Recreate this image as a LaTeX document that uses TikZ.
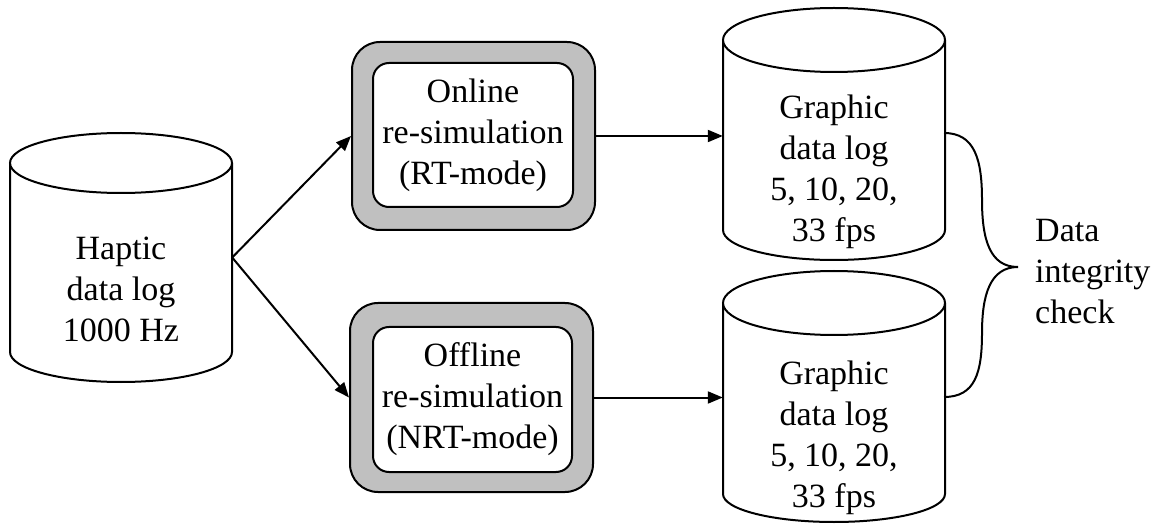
\documentclass[tikz,border=0pt]{standalone}
\usepackage{fontspec}
\setmainfont{LiberationSerif}[Extension=.ttf, UprightFont=*-Regular, BoldFont=*-Bold, ItalicFont=*-Italic, BoldItalicFont=*-BoldItalic]
\usetikzlibrary{arrows.meta}
\definecolor{boxgray}{RGB}{192,192,192}
\begin{document}
\begin{tikzpicture}[x=1pt,y=1pt,
  outline/.style={draw=black,line width=2pt},
  txt/.style={font=\rmfamily\fontsize{34}{41}\selectfont, align=center, inner sep=0pt},
  outerbox/.style={outline, fill=boxgray, rounded corners=28pt, minimum width=243pt, minimum height=188pt, inner sep=0pt},
  innerbox/.style={outline, fill=white, rounded corners=16pt, minimum width=200pt, minimum height=144pt, inner sep=0pt, font=\rmfamily\fontsize{34}{41}\selectfont, align=center},
  flow/.style={line width=2pt, -{Triangle[length=15pt,width=12pt]}},
  cylbody/.style={inner sep=0pt, minimum width=222pt},
  bracestyle/.style={line width=2pt}
]
\useasboundingbox (0,0) rectangle (1161,525);

% ---- cylinders (drawn shapes) ----
% Haptic data log
\draw[outline,fill=white] (10,362) -- (10,173) arc[start angle=180,end angle=360,x radius=111,y radius=30] -- (232,362);
\draw[outline,fill=white] (121,362) ellipse[x radius=111,y radius=30];
% Graphic data log (top)
\draw[outline,fill=white] (723,485) -- (723,295) arc[start angle=180,end angle=360,x radius=111,y radius=30] -- (945,485);
\draw[outline,fill=white] (834,485) ellipse[x radius=111,y radius=32];
% Graphic data log (bottom)
\draw[outline,fill=white] (723,222) -- (723,31) arc[start angle=180,end angle=360,x radius=111,y radius=28] -- (945,222);
\draw[outline,fill=white] (834,222) ellipse[x radius=111,y radius=32];

% invisible nodes marking the cylinder bodies
\node[cylbody, minimum height=189pt] (haptic) at (121,267.5) {};
\node[cylbody, minimum height=190pt] (gtop) at (834,390) {};
\node[cylbody, minimum height=191pt] (gbot) at (834,126.5) {};

% cylinder labels
\node[txt] (hapticlabel) at (121,236) {Haptic\\data log\\1000 Hz};
\node[txt] (gtoplabel) at (834,353) {Graphic\\data log\\5, 10, 20,\\33 fps};
\node[txt] (gbotlabel) at (834,87) {Graphic\\data log\\5, 10, 20,\\33 fps};

% ---- process boxes ----
\node[outerbox] (online) at (473.5,389) {};
\node[innerbox] (onlinein) at (473,390) {Online\\re-simulation\\(RT-mode)};
\node[outerbox, minimum height=189pt] (offline) at (471.5,127.5) {};
\node[innerbox, minimum width=199pt, minimum height=145pt] (offlinein) at (472.5,125.5) {Offline\\re-simulation\\(NRT-mode)};

% ---- connectors ----
\draw[flow] (haptic.east) -- (online.west);
\draw[flow] (haptic.east) -- (offline.west);
\draw[flow] (online.east) -- (online.east -| gtop.west);
\draw[flow] (offline.east) -- (offline.east -| gbot.west);

% ---- brace ----
\coordinate (bt) at (944,392);
\coordinate (btip) at (1018,258);
\coordinate (bb) at (944,128);
\draw[bracestyle] (bt) .. controls (975,392) and (982,365) .. (982,325)
  .. controls (982,285) and (990,258) .. (btip)
  .. controls (990,258) and (982,230) .. (982,192)
  .. controls (982,152) and (975,128) .. (bb);

\node[txt, align=left, anchor=west] (integrity) at (1035,253) {Data\\integrity\\check};
\end{tikzpicture}
\end{document}
